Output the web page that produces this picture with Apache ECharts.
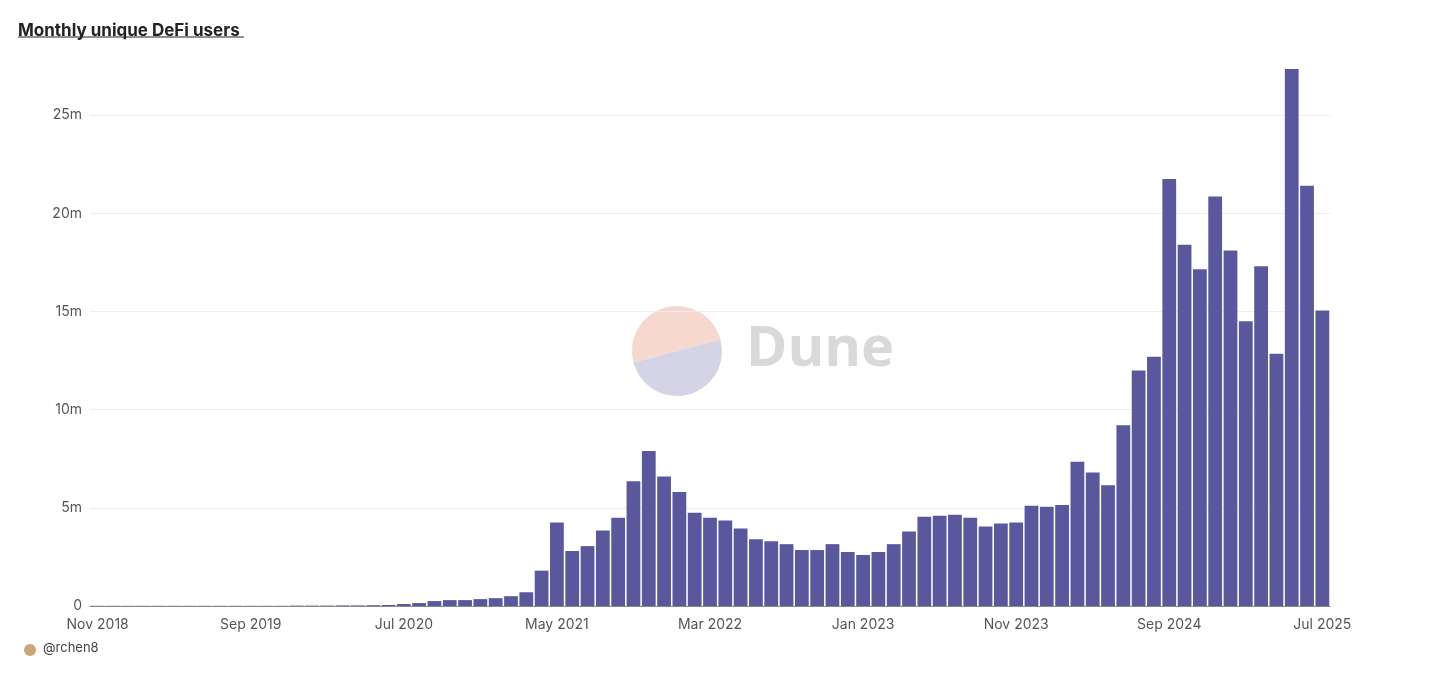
<!DOCTYPE html>
<html><head><meta charset="utf-8">
<script src="https://cdn.jsdelivr.net/npm/echarts@6/dist/echarts.min.js"></script>
<style>html,body{margin:0;padding:0;background:#fff}#c{width:1434px;height:682px}</style>
</head><body><div id="c"></div>
<script>
const monthNames=['Jan','Feb','Mar','Apr','May','Jun','Jul','Aug','Sep','Oct','Nov','Dec'];
const categories=[];
for(let y=2018,m=10;!(y===2025&&m===7);){categories.push(monthNames[m]+' '+y);m++;if(m===12){m=0;y++;}}
const usersM=[0.01,0.01,0.01,0.01,0.01,0.01,0.01,0.01,0.01,0.01,
0.01,0.01,0.01,0.02,0.02,0.02,0.03,0.03,0.04,0.05,
0.1,0.15,0.25,0.3,0.3,0.35,0.4,0.5,0.7,1.8,
4.25,2.8,3.05,3.85,4.5,6.35,7.9,6.6,5.8,4.75,
4.5,4.35,3.95,3.4,3.3,3.15,2.85,2.85,3.15,2.75,
2.6,2.75,3.15,3.8,4.55,4.6,4.65,4.5,4.05,4.2,
4.25,5.1,5.05,5.15,7.35,6.8,6.15,9.2,12.0,12.7,
21.75,18.4,17.15,20.85,18.1,14.5,17.3,12.85,27.35,21.4,15.05];
const users=usersM.map(v=>Math.round(v*1e6));
const a=0.26;
const chart=echarts.init(document.getElementById('c'));
chart.setOption({
 animation:false,
 grid:{left:90,right:104,top:69,bottom:76},
 title:{text:'Monthly unique DeFi users',left:13,top:17,textStyle:{fontFamily:'Inter',fontSize:17,fontWeight:'bold',color:'#222'}},
 graphic:[
  {type:'line',shape:{x1:18,y1:37,x2:244,y2:37},style:{stroke:'#222',lineWidth:1.2}},
  {type:'sector',shape:{cx:677,cy:351,r:45,startAngle:Math.PI-a,endAngle:2*Math.PI-a,clockwise:true},style:{fill:'#f6d8cf'},z:-1},
  {type:'sector',shape:{cx:677,cy:351,r:45,startAngle:-a,endAngle:Math.PI-a,clockwise:true},style:{fill:'#d4d4e6'},z:-1},
  {type:'text',left:746,top:322,style:{text:'Dune',font:'bold 56px "Open Sans"',fill:'#d9d9d9'},z:-1},
  {type:'circle',shape:{cx:30,cy:650,r:6},style:{fill:'#caa77a'}},
  {type:'text',left:43,top:642,style:{text:'@rchen8',font:'13px Inter',fill:'#444'}}
 ],
 xAxis:{type:'category',data:categories,
  axisLine:{lineStyle:{color:'#888'}},axisTick:{show:false},
  axisLabel:{interval:9,color:'#555',fontSize:14,fontFamily:'Inter',margin:12}},
 yAxis:{type:'value',min:0,max:v=>v.max,interval:5e6,
  axisLabel:{color:'#555',fontSize:14,fontFamily:'Inter',showMaxLabel:false,
   formatter:v=>v===0?'0':(v/1e6)+'m'},
  splitLine:{showMaxLine:false,lineStyle:{color:'#eee'}}},
 series:[{type:'bar',data:users,barCategoryGap:'10%',itemStyle:{color:'#59589c'}}]
});
</script></body></html>
